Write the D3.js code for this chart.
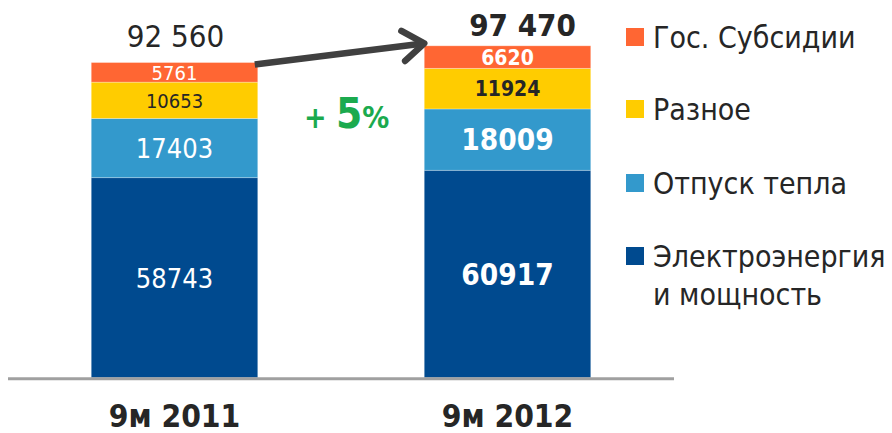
<!DOCTYPE html>
<html><head><meta charset="utf-8">
<script src="https://cdn.jsdelivr.net/npm/d3@7"></script>
<style>
html,body{margin:0;padding:0;background:#fff;}
svg{display:block;}
text{font-family:"DejaVu Sans Condensed","DejaVu Sans",sans-serif;}
</style></head><body>
<svg id="c" width="892" height="433"></svg>
<script>
const categories = ["9м 2011", "9м 2012"];
const seriesNames = ["Электроэнергия\nи мощность", "Отпуск тепла", "Разное", "Гос. Субсидии"];
const electricity = [58743, 60917];
const heat = [17403, 18009];
const misc = [10653, 11924];
const subsidies = [5761, 6620];
const totalLabels = ["92 560", "97 470"];
const growthLabel = "5%";
const colors = ["#004A8F", "#3399CC", "#FFCC00", "#FF6633"];
const labelColors = ["#fff", "#fff", "#262626", "#fff"];

const series = [electricity, heat, misc, subsidies];
const totals = categories.map((c, i) => d3.sum(series, s => s[i]));

const svg = d3.select("#c");
const base = 377.7;
const y = d3.scaleLinear().domain([0, 100000]).range([base, base - 340.5]);
const x = d3.scaleBand().domain(categories).range([8, 674]).paddingInner(0.5).paddingOuter(0.25);

const rows = categories.map((c, i) => {
  const o = {cat: c};
  series.forEach((s, k) => o["s" + k] = s[i]);
  return o;
});
const stack = d3.stack().keys(series.map((s, k) => "s" + k))(rows);

const bw = x.bandwidth();
stack.forEach((layer, k) => {
  svg.append("g").selectAll("rect").data(layer).join("rect")
    .attr("x", d => x(d.data.cat))
    .attr("width", bw)
    .attr("y", d => y(d[1]))
    .attr("height", d => y(d[0]) - y(d[1]))
    .attr("fill", colors[k])
    .attr("stroke", "#ffffff").attr("stroke-opacity", 0.35).attr("stroke-width", 0.8);
});

svg.append("line").attr("x1", 8).attr("x2", 674).attr("y1", base + 1).attr("y2", base + 1)
  .attr("stroke", "#A0A0A0").attr("stroke-width", 3);

const segSizes = [[27, 27, 20, 20], [29.5, 29.5, 21, 21]];
stack.forEach((layer, k) => {
  layer.forEach((d, i) => {
    const fs = segSizes[i][k];
    const mid = (y(d[0]) + y(d[1])) / 2;
    svg.append("text")
      .attr("x", x(d.data.cat) + bw / 2)
      .attr("y", mid + fs * 0.365)
      .attr("text-anchor", "middle")
      .attr("font-size", fs)
      .attr("font-weight", i === 1 ? "bold" : "normal")
      .attr("fill", labelColors[k])
      .text(d.data["s" + k]);
  });
});

totals.forEach((t, i) => {
  svg.append("text")
    .attr("x", x(categories[i]) + bw / 2 + (i === 1 ? 15 : 1))
    .attr("y", y(t) - (i === 1 ? 10 : 15.5))
    .attr("text-anchor", "middle")
    .attr("font-size", 31)
    .attr("font-weight", i === 1 ? "bold" : "normal")
    .attr("fill", "#262626")
    .text(totalLabels[i]);
});

categories.forEach((c, i) => {
  svg.append("text")
    .attr("x", x(c) + bw / 2)
    .attr("y", 427)
    .attr("text-anchor", "middle")
    .attr("font-size", 31.5)
    .attr("font-weight", "bold")
    .attr("fill", "#262626")
    .text(c);
});

const x0 = x(categories[0]) + bw - 3, y0 = y(totals[0]) + 2;
const x1 = x(categories[1]), y1 = y(totals[1]) - 2.5;
const ang = Math.atan2(y1 - y0, x1 - x0);
const L = 26, spread = 0.62;
const ag = svg.append("g").attr("stroke", "#404040").attr("stroke-width", 6.5)
  .attr("stroke-linecap", "round").attr("stroke-linejoin", "round").attr("fill", "none");
ag.append("line").attr("x1", x0).attr("y1", y0).attr("x2", x1 - 3 * Math.cos(ang)).attr("y2", y1 - 3 * Math.sin(ang)).attr("stroke-linecap", "butt");
ag.append("path").attr("d", d3.line()([
  [x1 - L * Math.cos(ang - spread), y1 - L * Math.sin(ang - spread)],
  [x1, y1],
  [x1 - L * Math.cos(ang + spread), y1 - L * Math.sin(ang + spread)]
]));

const g5 = svg.append("text").attr("x", 304).attr("y", 128).attr("fill", "#1BAA4E").attr("font-weight", "bold");
g5.append("tspan").attr("font-size", 30).text("+ ");
g5.append("tspan").attr("font-size", 42).text(growthLabel.slice(0, -1));
g5.append("tspan").attr("font-size", 30).text("%");

const legendY = [48, 120, 194, 267];
const legOrder = [3, 2, 1, 0];
legOrder.forEach((k, r) => {
  const by = legendY[r];
  svg.append("rect").attr("x", 626).attr("y", by - 20).attr("width", 18).attr("height", 18).attr("fill", colors[k]);
  const lines = seriesNames[k].split("\n");
  const t = svg.append("text").attr("x", 653).attr("y", by).attr("font-size", 30).attr("fill", "#262626");
  lines.forEach((ln, j) => {
    t.append("tspan").attr("x", 653).attr("dy", j === 0 ? 0 : 38).text(ln);
  });
});
</script>
</body></html>
